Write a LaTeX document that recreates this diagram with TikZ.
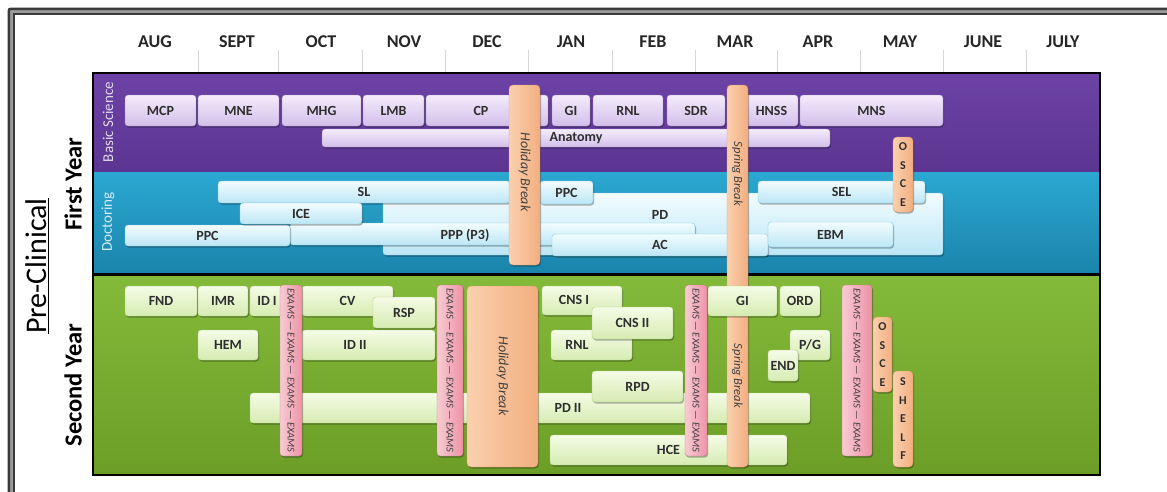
\documentclass[tikz,border=0pt]{standalone}
\usepackage{fontspec}
\setmainfont{Carlito}
\usetikzlibrary{shadows}
\definecolor{frameD}{HTML}{3A3A3A}
\definecolor{frameL}{HTML}{9A9A9A}
\definecolor{sepC}{HTML}{D6D6D6}
\definecolor{purT}{HTML}{6C42A6}
\definecolor{purB}{HTML}{5C3592}
\definecolor{bluT}{HTML}{2BA8D2}
\definecolor{bluB}{HTML}{1A84AB}
\definecolor{grnT}{HTML}{84BA3A}
\definecolor{grnB}{HTML}{6C9E27}
\definecolor{txtC}{HTML}{2E2E2E}
\definecolor{lavT}{HTML}{F4ECFB}
\definecolor{lavB}{HTML}{D3BFEA}
\definecolor{lavD}{HTML}{9F86C2}
\definecolor{cyaT}{HTML}{F2FCFF}
\definecolor{cyaB}{HTML}{BCE6F5}
\definecolor{cyaD}{HTML}{86C8DE}
\definecolor{lgrT}{HTML}{F5FBE6}
\definecolor{lgrB}{HTML}{D6ECB2}
\definecolor{lgrD}{HTML}{ACCF7E}
\definecolor{orT}{HTML}{FAD0AE}
\definecolor{orB}{HTML}{F3AE80}
\definecolor{orD}{HTML}{D9996A}
\definecolor{pkL}{HTML}{F8CBD3}
\definecolor{pkR}{HTML}{EE93A6}
\definecolor{pkD}{HTML}{C77B8C}
\newcommand\mybx[7]{\node[#1, anchor=north west, minimum width={#5-#3}, minimum height={#6-#4}] (#2) at (#3,#4) {#7};}
\newcommand\mylb[4]{\node[lbl] (#1) at (#2,#3) {#4};}
\begin{document}
\begin{tikzpicture}[x=1pt,y=-1pt,
  base/.style={rounded corners=3pt, inner sep=0pt, outer sep=0pt, text=txtC,
     font=\bfseries\fontsize{14}{14}\selectfont,
     drop shadow={shadow xshift=1pt, shadow yshift=-1.5pt, opacity=.3, fill=black}},
  pbox/.style={base, draw=lavD, top color=lavT, bottom color=lavB},
  bbox/.style={base, draw=cyaD, top color=cyaT, bottom color=cyaB},
  gbox/.style={base, draw=lgrD, top color=lgrT, bottom color=lgrB},
  orbar/.style={base, rounded corners=4pt, draw=orD, left color=orT, right color=orB},
  exbar/.style={base, draw=pkD, left color=pkL, right color=pkR},
  lbl/.style={inner sep=0pt, text=txtC, font=\bfseries\fontsize{14}{14}\selectfont},
  month/.style={inner sep=0pt, text=black!85, font=\bfseries\fontsize{18}{18}\selectfont},
  sepline/.style={sepC, line width=0.8pt},
  extxt/.style={rotate=-90, inner sep=0pt, text=black!75, font=\itshape\fontsize{10.5}{10.5}\selectfont},
  brtxt/.style={rotate=-90, inner sep=0pt, text=black!75, font=\itshape\fontsize{14}{14}\selectfont},
  lett/.style={inner sep=0pt, align=center, text=txtC, font=\bfseries\fontsize{12}{18.5}\selectfont}
]
\useasboundingbox (0,0) rectangle (1167,491);
\clip (0,0) rectangle (1167,491);
\fill[white] (0,0) rectangle (1167,491);
% window frame
\draw[frameL, line width=5pt] (11.25,11.25) rectangle (1200,520);
\draw[frameD, line width=2.5pt, rounded corners=2pt] (8.75,8.75) rectangle (1200,520);
\draw[frameD, line width=2.5pt] (13.75,13.75) rectangle (1200,520);
% months
\node[month] (m1) at (155,42) {AUG};
\node[month] (m2) at (237,42) {SEPT};
\node[month] (m3) at (321,42) {OCT};
\node[month] (m4) at (404,42) {NOV};
\node[month] (m5) at (487,42) {DEC};
\node[month] (m6) at (571,42) {JAN};
\node[month] (m7) at (653,42) {FEB};
\node[month] (m8) at (735,42) {MAR};
\node[month] (m9) at (818,42) {APR};
\node[month] (m10) at (900,42) {MAY};
\node[month] (m11) at (983,42) {JUNE};
\node[month] (m12) at (1063,42) {JULY};
\foreach \x in {198,278,362,445,528,612,695,777,860,943,1026}
  \draw[sepline] (\x,50) -- (\x,72);
% panels
\shade[top color=purT, bottom color=purB] (93,73) rectangle (1100,172);
\shade[top color=bluT, bottom color=bluB] (93,172) rectangle (1100,274);
\shade[top color=grnT, bottom color=grnB] (93,274) rectangle (1100,475);
\draw[black, line width=3pt] (93,274) -- (1100,274);
\draw[black, line width=2.5pt] (93,73) rectangle (1100,475);
% left labels
\node[rotate=90, inner sep=0pt, font=\fontsize{30}{30}\selectfont] (pc) at (37,266) {\underline{Pre-Clinical}};
\node[rotate=90, inner sep=0pt, font=\bfseries\fontsize{24.5}{24.5}\selectfont] (fy) at (73,184) {First Year};
\node[rotate=90, inner sep=0pt, font=\bfseries\fontsize{24.5}{24.5}\selectfont] (sy) at (73,385) {Second Year};
\node[rotate=90, inner sep=0pt, text=white!80!purT, font=\fontsize{15}{15}\selectfont] (bsc) at (108,122) {Basic Science};
\node[rotate=90, inner sep=0pt, text=white!80!bluT, font=\fontsize{15}{15}\selectfont] (doc) at (108,222) {Doctoring};
% first year: basic science
\mybx{pbox}{anat}{322}{129}{830}{147}{Anatomy}
\mybx{pbox}{mcp}{125}{95}{196}{126}{MCP}
\mybx{pbox}{mne}{198}{95}{279}{126}{MNE}
\mybx{pbox}{mhg}{282}{95}{361}{126}{MHG}
\mybx{pbox}{lmb}{363}{95}{424}{126}{LMB}
\mybx{pbox}{cp}{426}{95}{548}{126}{}
\mylb{cpl}{481}{111}{CP}
\mybx{pbox}{gia}{552}{95}{590}{126}{GI}
\mybx{pbox}{rnla}{593}{95}{663}{126}{RNL}
\mybx{pbox}{sdr}{667}{95}{725}{126}{SDR}
\mybx{pbox}{hnss}{745}{95}{798}{126}{HNSS}
\mybx{pbox}{mns}{800}{95}{943}{126}{MNS}
% first year: doctoring
\mybx{bbox}{pd}{383}{193}{943}{255}{}
\mylb{pdl}{660}{215}{PD}
\mybx{bbox}{ppp}{290}{223}{695}{245}{}
\mylb{pppl}{465}{235}{PPP (P3)}
\mybx{bbox}{ppca}{125}{225}{290}{246}{PPC}
\mybx{bbox}{ac}{552}{234}{768}{256}{AC}
\mybx{bbox}{ebm}{768}{222}{893}{247}{EBM}
\mybx{bbox}{sel}{758}{181}{925}{203}{SEL}
\mybx{bbox}{sl}{218}{181}{510}{203}{SL}
\mybx{bbox}{ice}{240}{203}{362}{224}{ICE}
\mybx{bbox}{ppcb}{540}{181}{593}{204}{PPC}
% second year
\mybx{gbox}{fnd}{125}{286}{197}{316}{FND}
\mybx{gbox}{imr}{198}{286}{248}{316}{IMR}
\mybx{gbox}{ida}{250}{286}{292}{316}{}
\mylb{idal}{267}{301}{ID I}
\mybx{gbox}{cv}{302}{286}{393}{316}{CV}
\mybx{gbox}{rsp}{373}{297}{435}{328}{RSP}
\mybx{gbox}{hem}{198}{330}{258}{360}{HEM}
\mybx{gbox}{idb}{302}{330}{435}{360}{}
\mylb{idbl}{355}{345}{ID II}
\mybx{gbox}{pdb}{250}{393}{810}{423}{}
\mylb{pdbl}{568}{408}{PD II}
\mybx{gbox}{cnsa}{542}{286}{622}{315}{}
\mylb{cnsal}{574}{300}{CNS I}
\mybx{gbox}{rnlb}{551}{330}{632}{360}{}
\mylb{rnlbl}{577}{345}{RNL}
\mybx{gbox}{cnsb}{592}{307}{673}{339}{CNS II}
\mybx{gbox}{rpd}{592}{371}{683}{402}{RPD}
\mybx{gbox}{hce}{550}{435}{787}{465}{HCE}
\mybx{gbox}{ord}{780}{286}{820}{316}{ORD}
\mybx{gbox}{pg}{790}{330}{830}{360}{P/G}
\mybx{gbox}{endb}{768}{350}{798}{381}{END}
% exam bars
\mybx{exbar}{exa}{280}{285}{302}{456}{}
\mybx{exbar}{exb}{437}{285}{463}{456}{}
\mybx{exbar}{exc}{685}{285}{707}{456}{}
\mybx{exbar}{exd}{842}{285}{872}{456}{}
\node[extxt] (exat) at (exa.center) {EXAMS --- EXAMS --- EXAMS --- EXAMS};
\node[extxt] (exbt) at (exb.center) {EXAMS --- EXAMS --- EXAMS --- EXAMS};
\node[extxt] (exct) at (exc.center) {EXAMS --- EXAMS --- EXAMS --- EXAMS};
\node[extxt] (exdt) at (exd.center) {EXAMS --- EXAMS --- EXAMS --- EXAMS};
% breaks
\mybx{orbar}{hola}{509}{85}{540}{265}{}
\mybx{orbar}{holb}{467}{286}{538}{467}{}
\mybx{orbar}{spr}{727}{85}{748}{467}{}
\node[brtxt] (holat) at (524.5,172) {Holiday Break};
\node[brtxt] (holbt) at (502.5,376) {Holiday Break};
\node[brtxt, font=\itshape\fontsize{12.5}{12.5}\selectfont] (sprat) at (737.5,174) {Spring Break};
\node[brtxt, font=\itshape\fontsize{12.5}{12.5}\selectfont] (sprbt) at (737.5,376) {Spring Break};
\mybx{gbox}{gib}{708}{286}{777}{316}{GI}
% OSCE / SHELF
\mybx{orbar}{osa}{893}{137}{913}{212}{}
\node[lett] (osat) at (osa.center) {O\\S\\C\\E};
\mybx{orbar}{osb}{873}{317}{892}{392}{}
\node[lett] (osbt) at (osb.center) {O\\S\\C\\E};
\mybx{orbar}{shf}{893}{371}{913}{467}{}
\node[lett] (shft) at (shf.center) {S\\H\\E\\L\\F};
\end{tikzpicture}
\end{document}
